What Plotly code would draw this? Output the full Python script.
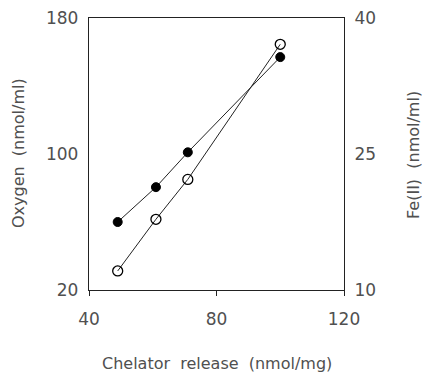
import plotly.graph_objects as go

chelator = [49, 61, 71, 100]
oxygen = [60, 80.5, 101, 157]
chelator_fe = [49, 61, 71, 100]
fe2 = [12.1, 17.8, 22.2, 37.1]

x_ticks = [40, 80, 120]
y_ticks = [20, 100, 180]
y2_ticks = [10, 25, 40]

font_family = "DejaVu Sans, Liberation Sans, sans-serif"
txt_color = "#505050"

fig = go.Figure()
fig.add_trace(go.Scatter(
    x=chelator, y=oxygen, mode="lines+markers", name="Oxygen",
    line=dict(color="#222", width=1),
    marker=dict(symbol="circle", size=9, color="black", line=dict(color="black", width=1)),
))
fig.add_trace(go.Scatter(
    x=chelator_fe, y=fe2, mode="lines+markers", name="Fe(II)", yaxis="y2",
    line=dict(color="#222", width=1),
    marker=dict(symbol="circle-open", size=10, color="black", line=dict(width=1.3)),
))

axis_font = dict(family=font_family, size=17, color=txt_color)
title_font = dict(family=font_family, size=16, color=txt_color)

W, H = 422, 372
L, R, T, B = 89, 78, 18, 82

fig.update_layout(
    width=W, height=H,
    margin=dict(l=L, r=R, t=T, b=B, autoexpand=False),
    paper_bgcolor="white", plot_bgcolor="white",
    showlegend=False,
    xaxis=dict(
        range=[40, 120], tickvals=x_ticks, ticktext=[str(v) for v in x_ticks],
        showgrid=False, zeroline=False, automargin=False,
        showline=True, linecolor="#222", linewidth=1.3, mirror=True,
        ticks="outside", ticklen=5, tickcolor="#222",
        tickfont=axis_font, ticklabelstandoff=8,
    ),
    yaxis=dict(
        range=[20, 180], tickvals=y_ticks, ticktext=[str(v) for v in y_ticks],
        showgrid=False, zeroline=False, automargin=False,
        showline=True, linecolor="#222", linewidth=1.3,
        ticks="", tickfont=axis_font, ticklabelstandoff=6,
    ),
    yaxis2=dict(
        range=[10, 40], tickvals=y2_ticks, ticktext=[str(v) for v in y2_ticks],
        overlaying="y", side="right", automargin=False,
        showgrid=False, zeroline=False,
        showline=True, linecolor="#222", linewidth=1.3,
        ticks="", tickfont=axis_font, ticklabelstandoff=6,
    ),
)

plot_w = W - L - R
plot_h = H - T - B
def px(xp):
    return (xp - L) / plot_w
def py(yp):
    return (H - B - yp) / plot_h

fig.add_annotation(text="Chelator  release  (nmol/mg)", xref="paper", yref="paper",
                   x=px(217), y=py(363), showarrow=False, font=title_font,
                   xanchor="center", yanchor="middle")
fig.add_annotation(text="Oxygen  (nmol/ml)", xref="paper", yref="paper",
                   x=px(18), y=py(153), showarrow=False, font=title_font, textangle=-90,
                   xanchor="center", yanchor="middle")
fig.add_annotation(text="Fe(II)  (nmol/ml)", xref="paper", yref="paper",
                   x=px(413), y=py(155), showarrow=False, font=title_font, textangle=-90,
                   xanchor="center", yanchor="middle")

fig.write_html("out.html", config={"displayModeBar": False},
               post_script="document.body.style.margin='0';document.body.style.overflow='hidden';")
